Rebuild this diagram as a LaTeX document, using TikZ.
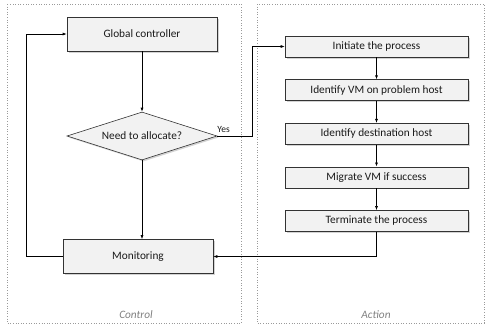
\documentclass[tikz,border=0pt]{standalone}
\usepackage{fontspec}
\setmainfont{Carlito}
\usepackage{tikz}
\usetikzlibrary{positioning,arrows.meta,shapes.geometric,shadows}

\definecolor{boxfill}{HTML}{F2F2F2}
\definecolor{txt}{HTML}{1A1A1A}
\definecolor{frame}{HTML}{9A9A9A}

\begin{document}
\begin{tikzpicture}[
      x=1pt, y=-1pt,
      node distance=22pt,
      font=\fontsize{11.3}{13}\selectfont, text=txt,
      stepbox/.style={draw=black!80, fill=boxfill, rectangle, line width=0.6pt,
                      minimum width=183pt, minimum height=21pt, inner sep=0pt,
                      drop shadow={shadow xshift=1.5pt, shadow yshift=-1.5pt, opacity=0.35}},
      bigbox/.style={stepbox, minimum width=150pt, minimum height=34pt},
      decision/.style={draw=black!80, fill=boxfill, diamond, aspect=3.1, line width=0.6pt,
                       minimum width=150pt, minimum height=48pt, inner sep=0pt,
                       drop shadow={shadow xshift=1.5pt, shadow yshift=-1.5pt, opacity=0.35}},
      area/.style={draw=frame, dotted, line width=0.6pt},
      arealabel/.style={text=black!50, font=\fontsize{11.3}{13}\selectfont\itshape},
      arr/.style={-{Latex[length=4pt, width=3pt]}, line width=0.6pt},
    ]
    \useasboundingbox (0,0) rectangle (486,324);

    % the two areas
    \draw[area] (7,4) rectangle (241,323);
    \draw[area] (257,4) rectangle (484,323);
    \node[arealabel] (ctrllbl) at (136,315) {Control};
    \node[arealabel] (actlbl) at (376,315) {Action};

    % control loop
    \node[bigbox] (glob) at (142,34) {Global controller};
    \node[decision] (alloc) at (142,136) {Need to allocate?};
    \node[bigbox] (mon) at (138,256.5) {Monitoring};

    % action steps
    \node[stepbox] (init) at (376.5,46.5) {Initiate the process};
    \node[stepbox, below=of init] (ident) {Identify VM on problem host};
    \node[stepbox, below=of ident] (dest) {Identify destination host};
    \node[stepbox, below=of dest] (migr) {Migrate VM if success};
    \node[stepbox, below=of migr] (term) {Terminate the process};

    \draw[arr] (glob) -- (alloc);
    \draw[arr] (alloc.south) -- (alloc.south |- mon.north);
    \draw[arr] (mon.west) -- ++(-36,0) |- (glob.west);
    \draw[arr] (alloc.east) -- node[above, pos=0.18, font=\fontsize{9.5}{11}\selectfont] (yes) {Yes}
      ++(35,0) |- (init.west);
    \draw[arr] (init) -- (ident);
    \draw[arr] (ident) -- (dest);
    \draw[arr] (dest) -- (migr);
    \draw[arr] (migr) -- (term);
    \draw[arr] (term.south) |- (mon.east);
  \end{tikzpicture}
\end{document}
